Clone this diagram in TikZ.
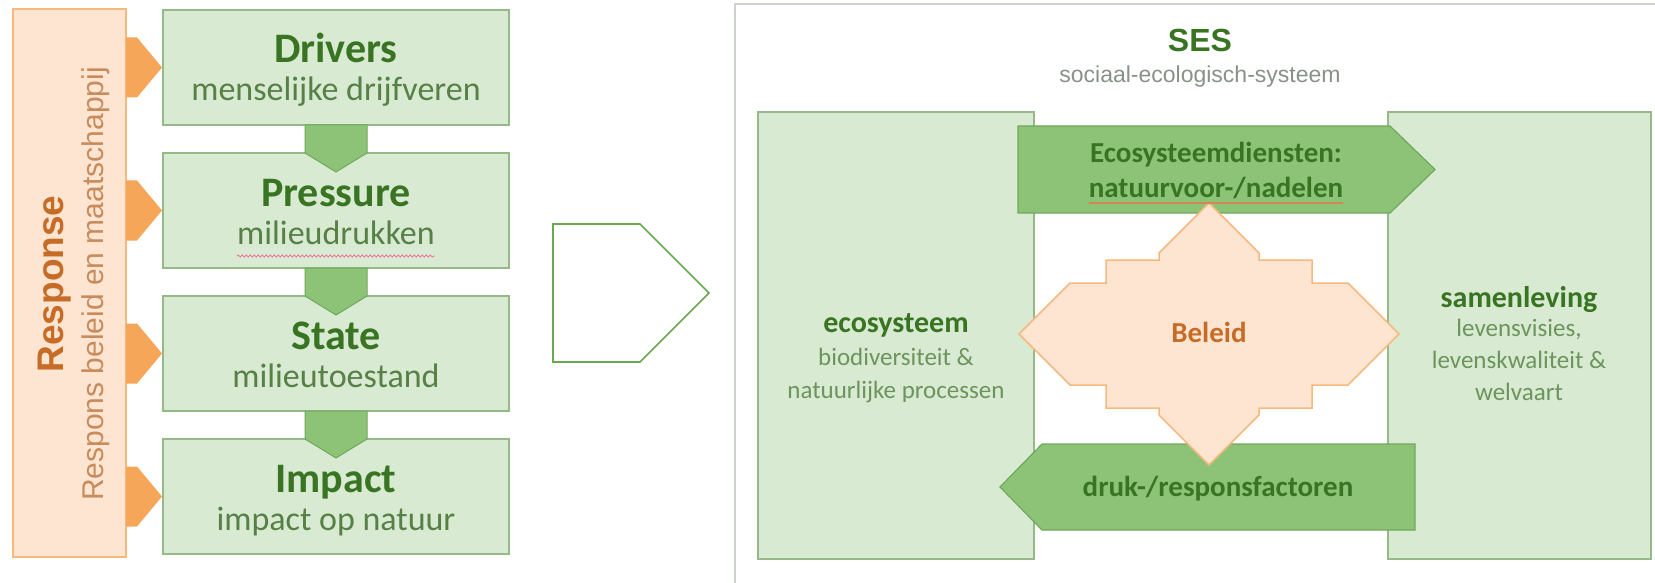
\documentclass[tikz,border=0pt]{standalone}
\usepackage{fontspec}
\setmainfont{Carlito}
\newfontfamily\arialfont{Liberation Sans}
\usetikzlibrary{positioning,calc,decorations.pathmorphing}

\definecolor{boxfill}{RGB}{216,234,210}
\definecolor{boxline}{RGB}{150,186,135}
\definecolor{arrowfill}{RGB}{141,195,118}
\definecolor{arrowline}{RGB}{112,168,92}
\definecolor{titlegreen}{RGB}{56,116,34}
\definecolor{subgreen}{RGB}{86,128,70}
\definecolor{sublight}{RGB}{108,148,92}
\definecolor{peach}{RGB}{253,229,210}
\definecolor{peachline}{RGB}{246,185,125}
\definecolor{tabfill}{RGB}{245,166,88}
\definecolor{rust}{RGB}{198,108,38}
\definecolor{rustlight}{RGB}{200,140,92}
\definecolor{framegrey}{RGB}{205,210,205}
\definecolor{sesgrey}{RGB}{135,145,135}
\definecolor{outlinegreen}{RGB}{106,168,79}
\definecolor{squiggle}{RGB}{232,120,150}

\begin{document}
\begin{tikzpicture}[x=1pt,y=-1pt,
  stage/.style={draw=boxline,fill=boxfill,line width=1.5pt,minimum width=346pt,minimum height=115pt,inner sep=0pt,outer sep=0pt},
  panel/.style={draw=boxline,fill=boxfill,line width=1.5pt,minimum height=447pt,inner sep=0pt,outer sep=0pt},
  downarrow/.style={draw=arrowline,fill=arrowfill,line width=1pt},
  fatarrow/.style={draw=arrowline,fill=arrowfill,line width=1.2pt},
  tabarrow/.style={fill=tabfill},
  ttl/.style={font=\bfseries\fontsize{42}{50}\selectfont,text=titlegreen,anchor=base,inner sep=0pt},
  sub/.style={font=\fontsize{34}{40}\selectfont,text=subgreen,anchor=base,inner sep=0pt},
  head/.style={font=\bfseries\fontsize{30}{36}\selectfont,text=titlegreen,anchor=base,inner sep=0pt},
  line/.style={font=\fontsize{25}{30}\selectfont,text=sublight,anchor=base,inner sep=0pt},
  flow/.style={font=\bfseries\fontsize{29}{34}\selectfont,text=titlegreen,anchor=base,inner sep=0pt}]
  \useasboundingbox (0,0) rectangle (1655,583);

  % DPSIR chain
  \node[draw=peachline,fill=peach,line width=1.5pt,minimum width=113pt,minimum height=548pt,inner sep=0pt,outer sep=0pt] (resp) at (69.5,283) {};
  \node[rotate=90,anchor=base,inner sep=0pt,text=rust,font=\arialfont\bfseries\fontsize{37}{44}\selectfont] (resptitle) at (63,284) {Response};
  \node[rotate=90,anchor=base,inner sep=0pt,text=rustlight,font=\arialfont\fontsize{30}{36}\selectfont] (respsub) at (103,284) {Respons beleid en maatschappij};

  \node[stage] (drv) at (336,67.5) {};
  \node[stage] (prs) at (336,210.5) {};
  \node[stage] (stt) at (336,353.5) {};
  \node[stage] (imp) at (336,496.5) {};

  \draw[downarrow] ($(drv.south)+(-31,0)$) -- ($(prs.north)+(-31,0)$) -- ($(prs.north)+(0,19)$) -- ($(prs.north)+(31,0)$) -- ($(drv.south)+(31,0)$) -- cycle;
  \draw[downarrow] ($(prs.south)+(-31,0)$) -- ($(stt.north)+(-31,0)$) -- ($(stt.north)+(0,19)$) -- ($(stt.north)+(31,0)$) -- ($(prs.south)+(31,0)$) -- cycle;
  \draw[downarrow] ($(stt.south)+(-31,0)$) -- ($(imp.north)+(-31,0)$) -- ($(imp.north)+(0,19)$) -- ($(imp.north)+(31,0)$) -- ($(stt.south)+(31,0)$) -- cycle;

  \fill[tabarrow] (resp.east |- drv.west) ++(0,-30) -- ++(11,0) -- ++(25,30) -- ++(-25,30) -- ++(-11,0) -- cycle;
  \fill[tabarrow] (resp.east |- prs.west) ++(0,-30) -- ++(11,0) -- ++(25,30) -- ++(-25,30) -- ++(-11,0) -- cycle;
  \fill[tabarrow] (resp.east |- stt.west) ++(0,-30) -- ++(11,0) -- ++(25,30) -- ++(-25,30) -- ++(-11,0) -- cycle;
  \fill[tabarrow] (resp.east |- imp.west) ++(0,-30) -- ++(11,0) -- ++(25,30) -- ++(-25,30) -- ++(-11,0) -- cycle;

  \node[ttl] (drvttl) at (336,63) {Drivers};
  \node[sub] (drvsub) at (336,101) {menselijke drijfveren};
  \node[ttl] (prsttl) at (336,206) {Pressure};
  \node[sub] (prssub) at (336,244) {milieudrukken};
  \node[ttl] (sttttl) at (336,349) {State};
  \node[sub] (sttsub) at (336,387) {milieutoestand};
  \node[ttl] (impttl) at (336,492) {Impact};
  \node[sub] (impsub) at (336,530) {impact op natuur};
  \draw[squiggle,line width=0.8pt,decorate,decoration={snake,amplitude=1pt,segment length=4pt}] ($(prssub.base west)+(0,12)$) -- ($(prssub.base east)+(0,12)$);

  % outline arrow
  \draw[outlinegreen,line width=1.7pt] (553,224) -- (640,224) -- (709,293) -- (640,362) -- (553,362) -- cycle;

  % SES
  \draw[framegrey,line width=1.5pt] (735,4) rectangle (1700,620);
  \node[anchor=base,inner sep=0pt,text=titlegreen,font=\arialfont\bfseries\fontsize{32}{38}\selectfont] (ses) at (1200,52) {SES};
  \node[anchor=base,inner sep=0pt,text=sesgrey,font=\arialfont\fontsize{23}{28}\selectfont] (sessub) at (1200,83) {sociaal-ecologisch-systeem};

  \node[panel,minimum width=276pt] (eco) at (896,335.5) {};
  \node[panel,minimum width=263pt] (sam) at (1519.5,335.5) {};

  \draw[fatarrow] ($(eco.north east)+(-16,14)$) -- ($(sam.north west)+(2,14)$) -- ($(sam.north west)+(47,57.5)$) -- ($(sam.north west)+(2,101)$) -- ($(eco.north east)+(-16,101)$) -- cycle;
  \draw[fatarrow] ($(eco.north east)+(-34,375)$) -- ($(eco.north east)+(8,332)$) -- ($(sam.north west)+(27,332)$) -- ($(sam.north west)+(27,418)$) -- ($(eco.north east)+(8,418)$) -- cycle;

  \coordinate (mid) at (1209,334);
  \draw[draw=peachline,fill=peach,line width=1.5pt,shift={(mid)}] (0,-131) -- (50,-81) -- (50,-74) -- (103,-74) -- (103,-51) -- (139,-51) -- (190,0) -- (139,51) -- (103,51) -- (103,74) -- (50,74) -- (50,81) -- (0,131) -- (-50,81) -- (-50,74) -- (-103,74) -- (-103,51) -- (-139,51) -- (-190,0) -- (-139,-51) -- (-103,-51) -- (-103,-74) -- (-50,-74) -- (-50,-81) -- cycle;

  \node[flow] (svc1) at (1216,163) {Ecosysteemdiensten:};
  \node[flow] (svc2) at (1216,197) {natuurvoor-/nadelen};
  \draw[rust!80,line width=1.2pt] ($(svc2.base west)+(0,6)$) -- ($(svc2.base east)+(0,6)$);
  \node[flow] (drk) at (1218,496) {druk-/responsfactoren};
  \node[flow,text=rust] (bel) at (1209,342) {Beleid};

  \node[head] (ecottl) at (896,332) {ecosysteem};
  \node[line] (eco1) at (896,365) {biodiversiteit \&};
  \node[line] (eco2) at (896,398) {natuurlijke processen};
  \node[head] (samttl) at (1519,307) {samenleving};
  \node[line] (sam1) at (1519,336) {levensvisies,};
  \node[line] (sam2) at (1519,368) {levenskwaliteit \&};
  \node[line] (sam3) at (1519,400) {welvaart};
\end{tikzpicture}
\end{document}
